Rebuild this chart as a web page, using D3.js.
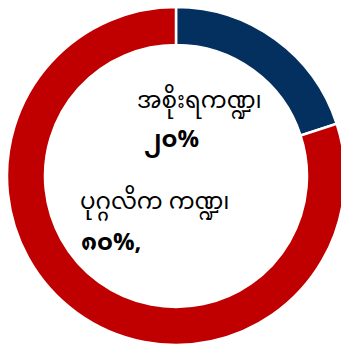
<!DOCTYPE html>
<html><head><meta charset="utf-8">
<script src="https://cdn.jsdelivr.net/npm/d3@7"></script>
<style>html,body{margin:0;padding:0;background:#fff;}</style>
</head><body>
<svg id="c" width="341" height="346"></svg>
<script>
const categories = ["အစိုးရကဏ္ဍ၊", "ပုဂ္ဂလိက ကဏ္ဍ၊"];
const values = [20, 80];
const valueLabels = ["၂၀%", "၈၀%,"];
const colors = ["#04305f", "#c00000"];

const svg = d3.select("#c");
const cx = 176, cy = 176, R = 169, r = 131;
const g = svg.append("g").attr("transform", `translate(${cx},${cy})`);
const pie = d3.pie().sort(null).value(d => d)(values);
const arc = d3.arc().innerRadius(r).outerRadius(R);
g.selectAll("path").data(pie).join("path")
  .attr("d", arc)
  .attr("fill", (d, i) => colors[i])
  .attr("stroke", "#fff").attr("stroke-width", 2.5);

const font = "'Noto Sans Myanmar','Padauk','Myanmar Text','Noto Sans',sans-serif";
const labels = [
  {name: categories[0], val: valueLabels[0], nx: 137, ny: 108, vx: 144, vy: 147},
  {name: categories[1], val: valueLabels[1], nx: 80, ny: 209, vx: 81, vy: 250}
];
labels.forEach(l => {
  svg.append("text").attr("x", l.nx).attr("y", l.ny).text(l.name)
    .attr("font-family", font).attr("font-size", 23).attr("fill", "#000");
  svg.append("text").attr("x", l.vx).attr("y", l.vy).text(l.val)
    .attr("font-family", font).attr("font-size", 24).attr("font-weight", "bold").attr("fill", "#000");
});
</script>
</body></html>
